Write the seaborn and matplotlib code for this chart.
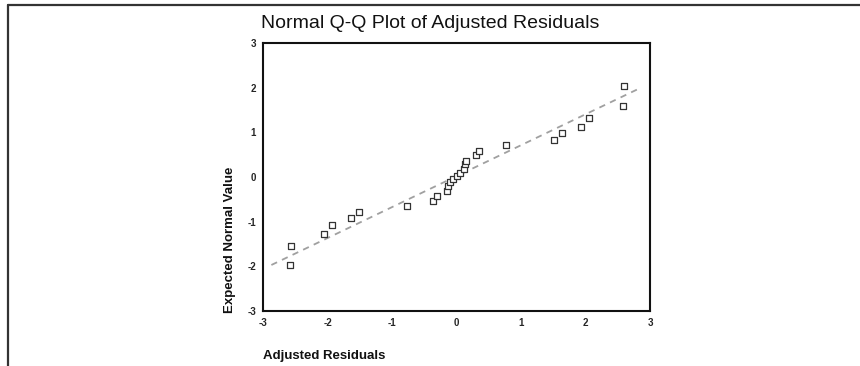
import numpy as np
import pandas as pd
import matplotlib.pyplot as plt
import seaborn as sns
from matplotlib.lines import Line2D

# values
adj_resid = [-2.57, -2.58, -2.05, -1.93, -1.64, -1.51,
             -0.76, -0.36, -0.31, -0.14, -0.13, -0.10, -0.05, 0.00, 0.05,
             0.11, 0.13, 0.15, 0.30, 0.35, 0.77,
             1.51, 1.63, 1.93, 2.05, 2.59, 2.58]
expected = [-1.54, -1.97, -1.28, -1.07, -0.92, -0.79,
            -0.64, -0.53, -0.42, -0.31, -0.21, -0.12, -0.04, 0.03, 0.10,
            0.18, 0.29, 0.36, 0.49, 0.59, 0.72,
            0.83, 0.98, 1.13, 1.33, 2.03, 1.58]
line_x = [-2.87, 2.86]
line_y = [-1.97, 2.00]
ticks = [-3, -2, -1, 0, 1, 2, 3]

sns.set_style("white")
plt.rcParams["font.family"] = ["Liberation Sans", "DejaVu Sans"]

df = pd.DataFrame({"x": adj_resid, "y": expected})

fig = plt.figure(figsize=(8.6, 3.66), dpi=100)
ax = fig.add_axes([263 / 860, 1 - 311 / 366, 387 / 860, 268 / 366])

sns.lineplot(x=line_x, y=line_y, ax=ax, color="#a0a0a0", linewidth=1.3,
             linestyle=(0, (3.5, 3)))
sns.scatterplot(data=df, x="x", y="y", ax=ax, marker="s", s=22,
                facecolor="white", edgecolor="#333333", linewidth=0.9, zorder=3)

ax.set_xlim(-3, 3)
ax.set_ylim(-3, 3)
ax.set_xticks(ticks)
ax.set_yticks(ticks)
ax.set_xticklabels([str(t) for t in ticks], fontsize=7, fontweight="bold")
ax.set_yticklabels([str(t) for t in ticks], fontsize=7, fontweight="bold")
ax.tick_params(direction="out", length=2, width=1.5, color="#111111", pad=3)
for s in ax.spines.values():
    s.set_visible(True)
    s.set_linewidth(1.5)
    s.set_color("#111111")
ax.set_xlabel("")
ax.set_ylabel("")

fig.text(0.5, 1 - 28 / 366, "Normal Q-Q Plot of Adjusted Residuals",
         ha="center", va="baseline", fontsize=14, color="#111111")
fig.text(263 / 860, 1 - 356 / 366, "Adjusted Residuals", ha="left", va="center",
         fontsize=9.5, fontweight="bold", color="#111111")
fig.text(230 / 860, 1 - 240 / 366, "Expected Normal Value", ha="center", va="center",
         rotation=90, fontsize=9.5, fontweight="bold", color="#111111")

# page frame (top and left edge)
fig.add_artist(Line2D([8 / 860, 1.0], [1 - 5 / 366, 1 - 5 / 366],
                      transform=fig.transFigure, color="#333333", linewidth=1.6))
fig.add_artist(Line2D([8 / 860, 8 / 860], [0.0, 1 - 5 / 366],
                      transform=fig.transFigure, color="#333333", linewidth=1.6))

fig.savefig("out.png", dpi=100)
